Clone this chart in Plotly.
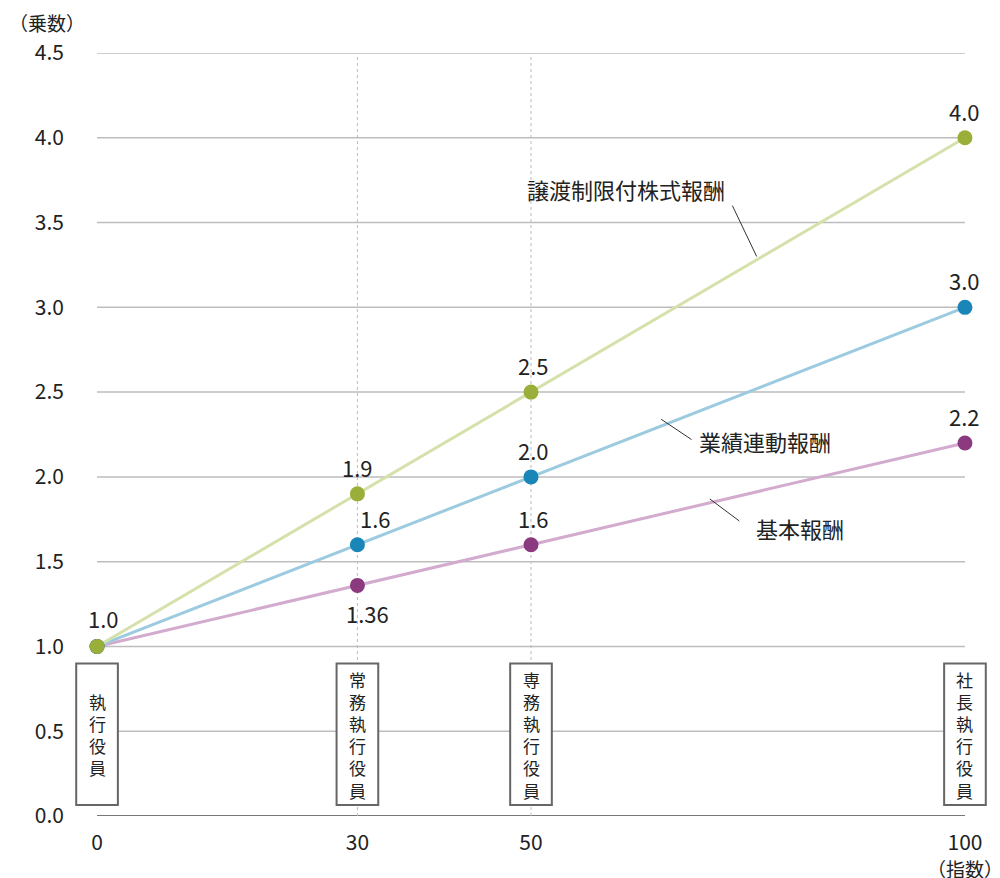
import plotly.graph_objects as go

idx = [0, 30, 50, 100]
kihon = [1.0, 1.36, 1.6, 2.2]
gyoseki = [1.0, 1.6, 2.0, 3.0]
joto = [1.0, 1.9, 2.5, 4.0]
kihon_lbl = ["", "1.36", "1.6", "2.2"]
gyoseki_lbl = ["", "1.6", "2.0", "3.0"]
joto_lbl = ["1.0", "1.9", "2.5", "4.0"]
roles = ["執<br>行<br>役<br>員", "常<br>務<br>執<br>行<br>役<br>員",
         "専<br>務<br>執<br>行<br>役<br>員", "社<br>長<br>執<br>行<br>役<br>員"]
yticks = [0.0, 0.5, 1.0, 1.5, 2.0, 2.5, 3.0, 3.5, 4.0, 4.5]

FONT = "Noto Sans CJK JP"
fig = go.Figure()

# grid lines
for v in yticks[1:]:
    fig.add_shape(type="line", x0=0, x1=100, y0=v, y1=v, layer="below",
                  line=dict(color="#bdbdbd", width=1.5))
fig.add_shape(type="line", x0=0, x1=100, y0=0, y1=0, layer="below",
              line=dict(color="#777", width=2))
for v in [30, 50]:
    fig.add_shape(type="line", x0=v, x1=v, y0=0, y1=4.5, layer="below",
                  line=dict(color="#bbb", width=1, dash="dot"))

series = [
    (kihon, "#d2abcf", "#8b3a80"),
    (gyoseki, "#9ccbe0", "#1a86b8"),
    (joto, "#d5e1ab", "#9aaf3a"),
]
for ys, lc, mc in series:
    fig.add_trace(go.Scatter(x=idx, y=ys, mode="lines", line=dict(color=lc, width=3),
                             showlegend=False, hoverinfo="skip", cliponaxis=False))
for ys, lc, mc in series:
    fig.add_trace(go.Scatter(x=idx, y=ys, mode="markers", marker=dict(color=mc, size=15),
                             showlegend=False, hoverinfo="skip", cliponaxis=False))

# role boxes
for x, r in zip(idx, roles):
    fig.add_shape(type="rect", x0=x - 2.4, x1=x + 2.4, y0=0.065, y1=0.9,
                  fillcolor="white", line=dict(color="#666", width=2), layer="above")
    fig.add_annotation(x=x, y=0.48, text=r, showarrow=False,
                       font=dict(family=FONT, size=17, color="#222"))

tf = dict(family=FONT, size=22, color="#222")
def lab(x, y, t, dx=0, dy=0):
    fig.add_annotation(x=x, y=y, text=t, showarrow=False, xshift=dx, yshift=dy, font=tf)

lab(idx[0], joto[0], joto_lbl[0], 6, 28)
lab(idx[1], joto[1], joto_lbl[1], 0, 27)
lab(idx[2], joto[2], joto_lbl[2], 2, 27)
lab(idx[3], joto[3], joto_lbl[3], 0, 27)
lab(idx[1], gyoseki[1], gyoseki_lbl[1], 18, 27)
lab(idx[2], gyoseki[2], gyoseki_lbl[2], 2, 27)
lab(idx[3], gyoseki[3], gyoseki_lbl[3], 0, 27)
lab(idx[1], kihon[1], kihon_lbl[1], 10, -28)
lab(idx[2], kihon[2], kihon_lbl[2], 2, 27)
lab(idx[3], kihon[3], kihon_lbl[3], 0, 27)

# series names with leaders
names = [("譲渡制限付株式報酬", 61, 3.7, 73.2, 3.6, 76, 3.3),
         ("業績連動報酬", 77, 2.21, 65, 2.34, 68.5, 2.22),
         ("基本報酬", 81, 1.7, 70.6, 1.87, 74, 1.74)]
for t, x, y, ax, ay, bx, by in names:
    fig.add_annotation(x=x, y=y, text=t, showarrow=False, font=tf)
    fig.add_shape(type="line", x0=ax, y0=ay, x1=bx, y1=by, line=dict(color="#333", width=1))

fig.add_annotation(xref="paper", yref="paper", x=-0.07, y=1.02, text="（乗数）",
                   showarrow=False, xanchor="left", yanchor="bottom", font=dict(family=FONT, size=19, color="#222"))
fig.add_annotation(x=100, y=0, text="（指数）", showarrow=False, yshift=-52,
                   font=dict(family=FONT, size=19, color="#222"))

fig.update_layout(
    width=1000, height=878, margin=dict(l=63, r=17, t=45, b=70),
    plot_bgcolor="white", paper_bgcolor="white",
    xaxis=dict(range=[-3, 103], tickvals=idx, showgrid=False, zeroline=False, automargin=False,
               ticks="", tickfont=dict(family=FONT, size=21, color="#222"),
               ticklabelstandoff=12),
    yaxis=dict(range=[0, 4.5], tickvals=yticks, ticktext=[f"{v:.1f}" for v in yticks],
               showgrid=False, zeroline=False, ticks="", automargin=False,
               tickfont=dict(family=FONT, size=21, color="#222"), ticklabelstandoff=6),
)
fig.write_html("out.html")
